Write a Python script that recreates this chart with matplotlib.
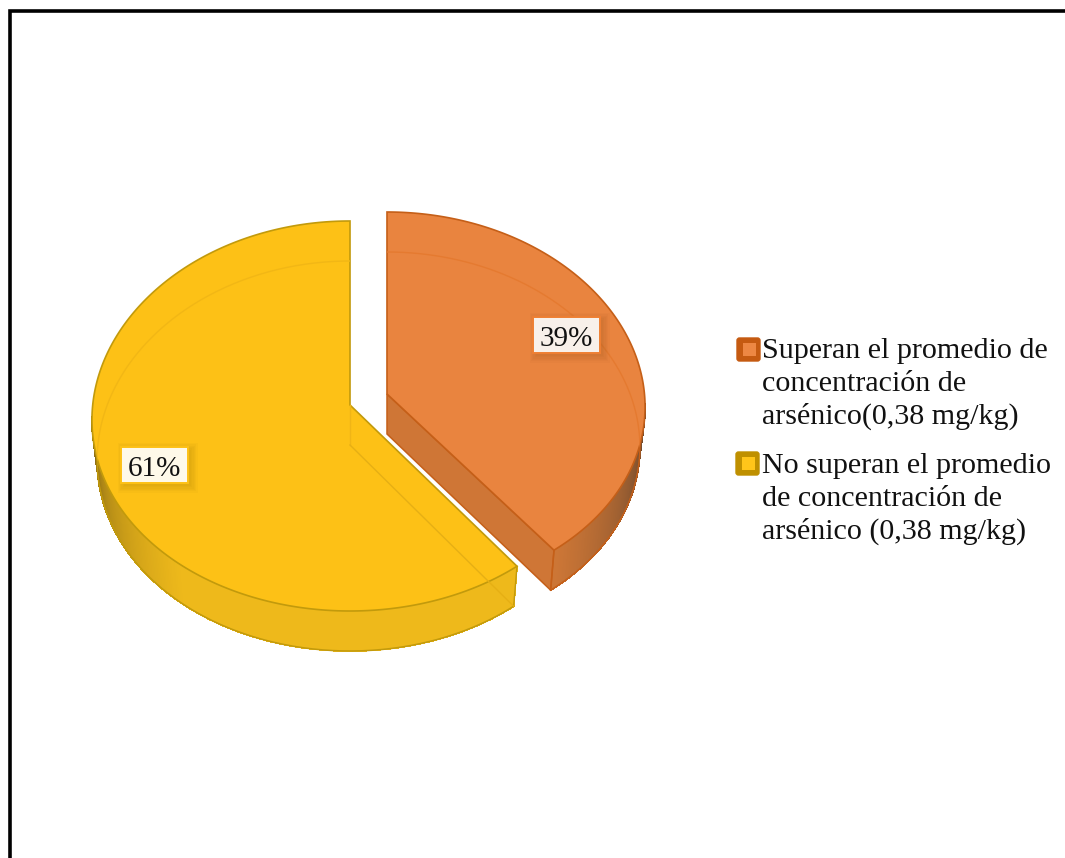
import numpy as np
import matplotlib
matplotlib.use("Agg")
import matplotlib.pyplot as plt
from matplotlib.colors import to_rgb
from matplotlib.patches import Polygon, Rectangle, FancyBboxPatch

# Chart data
categories = [
    "Superan el promedio de\nconcentración de\narsénico(0,38 mg/kg)",
    "No superan el promedio\nde concentración de\narsénico (0,38 mg/kg)",
]
shares = [39, 61]
share_labels = ["39%", "61%"]

plt.rcParams["font.family"] = ["Liberation Serif", "DejaVu Serif"]

W, H = 1065, 858
fig = plt.figure(figsize=(W / 100, H / 100), dpi=100)
ax = fig.add_axes([0, 0, 1, 1])
ax.set_xlim(0, W)
ax.set_ylim(H, 0)
ax.axis("off")

# Pie projection (pixels)
RX, DEPTH, FLARE, TAPER = 258, 40, 0.02, 0.98


def rim(theta, cx, cy, ry):
    """Top rim point for a clockwise angle measured from the top of the pie."""
    s, c = np.sin(theta), np.cos(theta)
    return np.column_stack([cx + RX * s * (1 - FLARE * c), cy - ry * c])


def lower(points, cx):
    """Matching point on the bottom rim, slightly narrower by perspective."""
    out = np.array(points, dtype=float).reshape(-1, 2)
    out[:, 0] = cx + (out[:, 0] - cx) * TAPER
    out[:, 1] += DEPTH
    return out


def mix(a, b, t):
    return tuple((1 - t) * np.array(to_rgb(a)) + t * np.array(to_rgb(b)))


def draw_slice(start, end, cx, ey, ry, apex_y, top, edge, dark, mid, cut_face=None, seam_angle=None):
    th = np.linspace(start, end, 400)
    outer = rim(th, cx, ey, ry)
    apex = np.array([cx, apex_y])

    # Visible outer wall with shading that darkens towards the far sides
    vis = th[np.abs(th - np.pi) <= np.pi / 2 + 1e-9]
    for a, b in zip(vis[:-1], vis[1:]):
        p = rim(np.array([a, b]), cx, ey, ry)
        q = lower(p, cx)
        m = 0.5 * (a + b)
        t = min(abs(m - np.pi / 2), abs(m - 3 * np.pi / 2)) / (np.pi / 2)
        col = mix(dark, mid, min(1, t / 0.55) ** 0.7)
        ax.add_patch(Polygon([p[0], p[1], q[1], q[0]], closed=True,
                             fc=col, ec=col, lw=0.6, antialiased=False, zorder=2))
    w = lower(rim(vis, cx, ey, ry), cx)
    ax.plot(w[:, 0], w[:, 1], color=edge, lw=1.1, zorder=3)

    # Flat cut face seen from the open side of the slice
    if cut_face is not None:
        tip = outer[-1]
        ax.add_patch(Polygon([apex, tip, lower(tip, cx)[0], lower(apex, cx)[0]], closed=True,
                             fc=cut_face, ec=edge, lw=1.1, zorder=3))

    # Top surface
    surface = np.vstack([apex, outer])
    ax.add_patch(Polygon(surface, closed=True, fc=top, ec=edge, lw=1.2, zorder=4,
                         joinstyle="miter"))

    # Vertical seam at the front corner
    corner = rim(np.array([seam_angle]), cx, ey, ry)
    base = lower(corner, cx)
    ax.plot([corner[0, 0], base[0, 0]], [corner[0, 1], base[0, 1]], color=edge, lw=1.0, zorder=5)
    return surface


def faint_underside(surface, start, end, cx, ey, ry, colour):
    """The translucent body lets the bottom outline show through the top surface."""
    clip = Polygon(surface, closed=True, transform=ax.transData)
    th = np.linspace(start, end, 300)
    low = lower(rim(th, cx, ey, ry), cx)
    line, = ax.plot(low[:, 0], low[:, 1], color=colour, lw=1.0, zorder=5)
    line.set_clip_path(clip)


# Clockwise angles for both slices, from the shares
sweep0 = 2 * np.pi * shares[0] / sum(shares)

# Large yellow slice, drawn first so the pulled-out slice sits above it
s = draw_slice(sweep0, 2 * np.pi, 350, 416, 195, 405,
               top="#FDC116", edge="#C29A0C", dark="#7C6012", mid="#EEB91B",
               seam_angle=sweep0)
faint_underside(s, sweep0, 2 * np.pi, 350, 416, 195, "#F2B715")
near = lower(rim(np.array([sweep0]), 350, 416, 195), 350)[0]
ax.plot([350, 350], [405, 405 + DEPTH], color="#F0B516", lw=1.0, zorder=5)
ax.plot([350, near[0]], [405 + DEPTH, near[1]], color="#E6AF14", lw=1.0, zorder=5)

# Pulled-out orange slice
s = draw_slice(0, sweep0, 387, 403, 191, 394,
               top="#E9843F", edge="#C55F18", dark="#4F3A2A", mid="#CC7636",
               cut_face="#CF7636", seam_angle=sweep0)
faint_underside(s, 0, sweep0, 387, 403, 191, "#E57A30")


def value_box(x0, y0, x1, y1, text, fill, rim_colour, shadow):
    for k in range(6):
        g = k * 1.3
        ax.add_patch(Rectangle((x0 + 3 - g, y0 + 3 - g), x1 - x0 + 2 * g, y1 - y0 + 2 * g,
                               fc=shadow, ec="none", alpha=0.04, zorder=7))
    ax.add_patch(Rectangle((x0, y0), x1 - x0, y1 - y0, fc=fill, ec=rim_colour, lw=1.4, zorder=8))
    ax.text((x0 + x1) / 2, y1 - 7.5, text, ha="center", va="baseline",
            fontsize=21, color="#111111", zorder=9)


value_box(533, 316.5, 600, 353, share_labels[0], "#F8F0EA", "#EE7F33", "#8A4A18")
value_box(121, 446.5, 188, 483, share_labels[1], "#FEF9E9", "#FDC116", "#8A6A10")

# Legend
legend_keys = [
    (736, 337, "#C55A11", "#ED8743", 358),
    (735, 451, "#BF9000", "#FFC51A", 473),
]
for (kx, ky, outer_col, inner_col, base), label in zip(legend_keys, categories):
    ax.add_patch(FancyBboxPatch((kx + 1, ky + 1), 23, 23, boxstyle="round,pad=0,rounding_size=2.5",
                                fc=outer_col, ec=outer_col, lw=1, zorder=3))
    ax.add_patch(Rectangle((kx + 6.5, ky + 6), 13, 13, fc=inner_col, ec="none", zorder=4))
    for i, line in enumerate(label.split("\n")):
        ax.text(762, base + 32.7 * i, line, ha="left", va="baseline",
                fontsize=21.6, color="#111111", zorder=5)

# Outer frame, open at the right and bottom
ax.plot([9.5, 9.5, W + 5], [H + 5, 11.3, 11.3], color="black", lw=2.6,
        solid_joinstyle="miter", zorder=10)

fig.savefig("out.png", dpi=100, facecolor="white")
